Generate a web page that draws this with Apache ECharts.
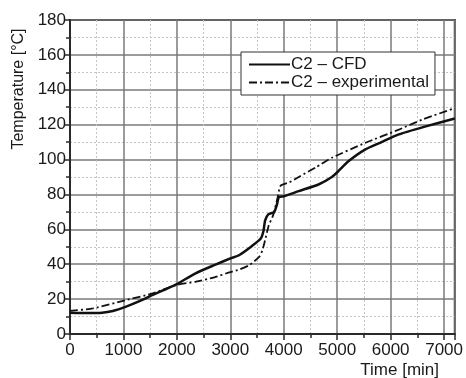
<!DOCTYPE html>
<html>
<head>
<meta charset="utf-8">
<script src="https://cdn.jsdelivr.net/npm/echarts@6/dist/echarts.min.js"></script>
<style>
  html, body { margin: 0; padding: 0; background: #fff; }
  #chart { width: 466px; height: 378px; }
</style>
</head>
<body>
<div id="chart"></div>
<script>
// C2 – CFD
var cfdTime = [0, 300, 600, 800, 1050, 1300, 1550, 1800, 2000, 2350, 2700, 3000, 3170, 3400, 3570, 3620, 3650, 3710, 3820, 3870, 3910, 4000, 4280, 4650, 4900, 5020, 5210, 5520, 5830, 6140, 6640, 7200];
var cfdTemp = [12.2, 12, 12.2, 13.2, 15.7, 18.8, 22.4, 25.8, 28.6, 34.8, 39.5, 43.3, 45.3, 50.3, 54.7, 59, 65, 68.6, 69.9, 74, 78.5, 78.9, 81.9, 85.7, 90, 93.3, 99, 105.7, 110, 114.3, 118.9, 123.5];
// C2 – experimental
var expTime = [0, 430, 1050, 1550, 1990, 2360, 2700, 3000, 3170, 3350, 3540, 3600, 3650, 3720, 3800, 3880, 3940, 4100, 4280, 4600, 4900, 5520, 6140, 6600, 7200];
var expTemp = [13.2, 14.7, 19.5, 23.3, 28.1, 30, 32.5, 35.5, 37, 39.4, 44.2, 48, 53.7, 62.3, 68, 77.5, 85, 86.9, 90, 95.5, 101, 109.5, 117, 123, 129.5];

var timeTicks = [0, 1000, 2000, 3000, 4000, 5000, 6000, 7000];
var tempTicks = [0, 20, 40, 60, 80, 100, 120, 140, 160, 180];

function pairs(xs, ys) {
  return xs.map(function (x, i) { return [x, ys[i]]; });
}

var chart = echarts.init(document.getElementById('chart'));
var font = 'Liberation Sans, Arial, sans-serif';
var ink = '#1a1a1a';

chart.setOption({
  backgroundColor: '#ffffff',
  animation: false,
  grid: {
    left: 70, right: 9, top: 20, bottom: 44,
    show: true, borderColor: '#2a2a2a', borderWidth: 2
  },
  legend: {
    orient: 'vertical',
    left: 241, top: 52,
    padding: [4, 6, 4, 7],
    itemGap: 1,
    itemWidth: 41, itemHeight: 15,
    backgroundColor: '#ffffff',
    borderColor: '#333',
    borderWidth: 1,
    borderRadius: 0,
    itemStyle: { opacity: 0 },
    textStyle: { fontFamily: font, fontSize: 17, color: ink, padding: [0, 0, 0, -4] },
    data: ['C2 – CFD', 'C2 – experimental']
  },
  xAxis: {
    type: 'value',
    min: timeTicks[0], max: 7200, interval: 1000,
    axisLine: { show: true, lineStyle: { color: '#2a2a2a', width: 2 } },
    axisTick: { show: true, inside: false, length: 6, lineStyle: { color: '#2a2a2a', width: 1.5 } },
    minorTick: { show: true, splitNumber: 2, length: 4, lineStyle: { color: '#2a2a2a', width: 1.5 } },
    axisLabel: {
      showMaxLabel: false, margin: 8,
      fontFamily: font, fontSize: 17, color: ink,
      formatter: function (v) { return timeTicks.indexOf(v) >= 0 ? String(v) : ''; }
    },
    splitLine: { show: true, lineStyle: { color: '#7a7a7a', width: 1.5 } },
    minorSplitLine: { show: true, lineStyle: { color: '#c4c4c4', width: 1, type: [2, 2] } }
  },
  yAxis: {
    type: 'value',
    min: tempTicks[0], max: tempTicks[tempTicks.length - 1], interval: 20,
    axisLine: { show: true, lineStyle: { color: '#2a2a2a', width: 2 } },
    axisTick: { show: true, inside: false, length: 6, lineStyle: { color: '#2a2a2a', width: 1.5 } },
    minorTick: { show: true, splitNumber: 2, length: 4, lineStyle: { color: '#2a2a2a', width: 1.5 } },
    axisLabel: { margin: 4, fontFamily: font, fontSize: 17, color: ink },
    splitLine: { show: true, lineStyle: { color: '#7a7a7a', width: 1.5 } },
    minorSplitLine: { show: true, lineStyle: { color: '#c4c4c4', width: 1, type: [2, 2] } }
  },
  graphic: [
    {
      type: 'text', x: 19, y: 89, rotation: Math.PI / 2,
      style: { text: 'Temperature [°C]', font: '16px ' + font, fill: ink, align: 'center', verticalAlign: 'middle' }
    },
    {
      type: 'text', right: 27, top: 362,
      style: { text: 'Time [min]', font: '17px ' + font, fill: ink }
    }
  ],
  series: [
    {
      name: 'C2 – CFD',
      type: 'line',
      data: pairs(cfdTime, cfdTemp),
      showSymbol: false, symbol: 'none',
      smooth: 0.2,
      lineStyle: { color: '#111', width: 2.5 },
      itemStyle: { color: '#111' },
      z: 3
    },
    {
      name: 'C2 – experimental',
      type: 'line',
      data: pairs(expTime, expTemp),
      showSymbol: false, symbol: 'none',
      smooth: 0.2,
      lineStyle: { color: '#111', width: 1.8, type: [8, 3, 2, 3] },
      itemStyle: { color: '#111' },
      z: 3
    }
  ]
});
</script>
</body>
</html>
